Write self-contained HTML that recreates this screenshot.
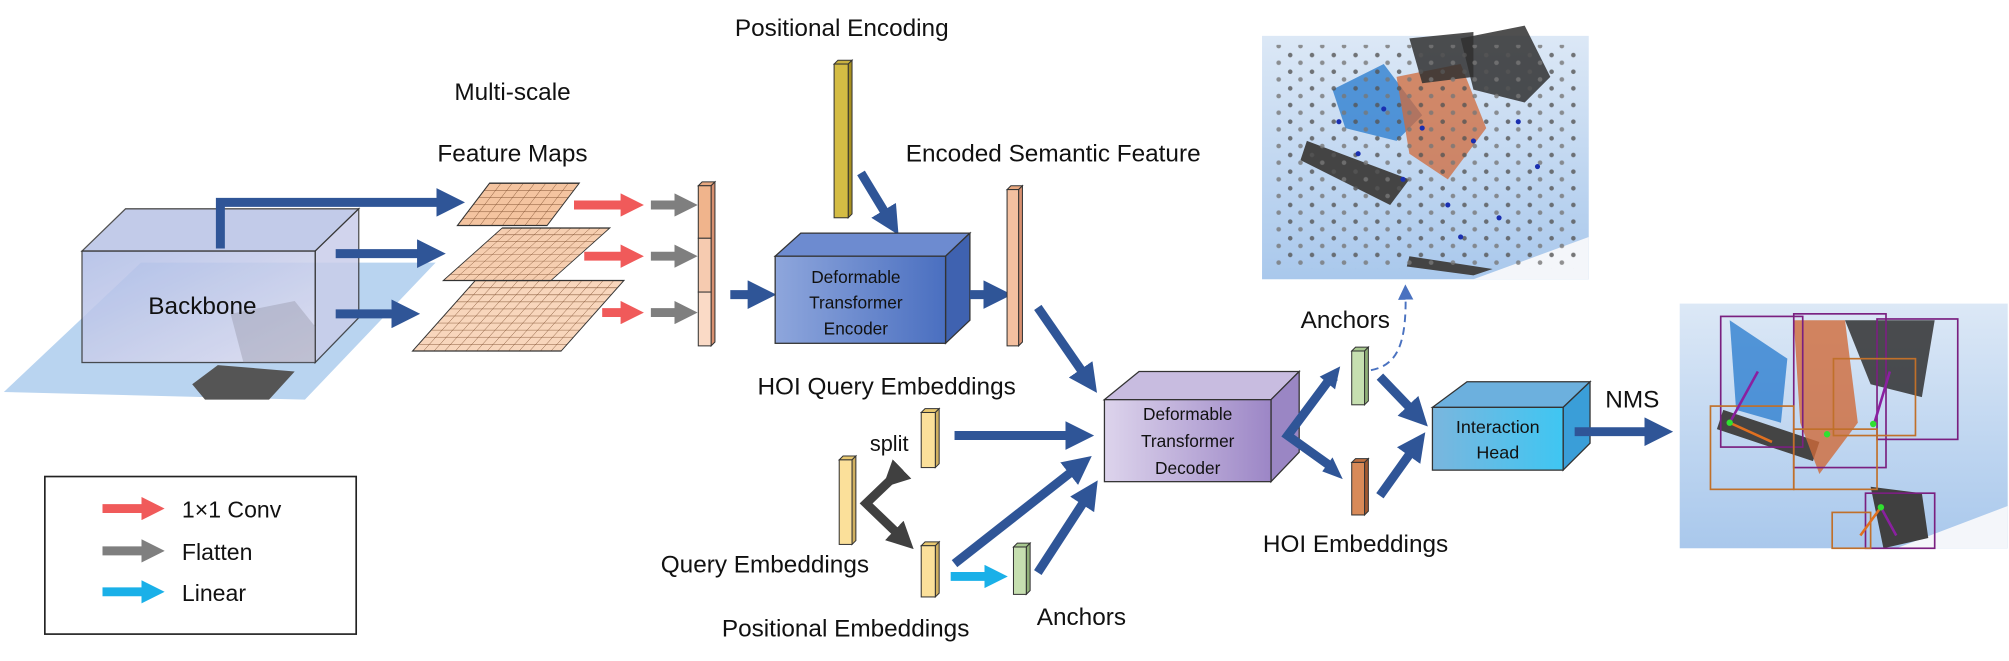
<!DOCTYPE html>
<html><head><meta charset="utf-8"><style>
html,body{margin:0;padding:0;background:#fff;}
svg{display:block;}
text{font-family:"Liberation Sans",sans-serif;fill:#111;}
</style></head><body>
<svg width="2009" height="661" viewBox="0 0 1568 516" preserveAspectRatio="none" xmlns="http://www.w3.org/2000/svg">
<defs>
<marker id="ab" viewBox="0 0 10 10" refX="2" refY="5" markerWidth="3.2" markerHeight="3.2" orient="auto"><path d="M0,0L10,5L0,10z" fill="#2f5597"/></marker>
<marker id="ar" viewBox="0 0 10 10" refX="2" refY="5" markerWidth="2.6" markerHeight="2.6" orient="auto"><path d="M0,0L10,5L0,10z" fill="#f05a5a"/></marker>
<marker id="ag" viewBox="0 0 10 10" refX="2" refY="5" markerWidth="2.6" markerHeight="2.6" orient="auto"><path d="M0,0L10,5L0,10z" fill="#7f7f7f"/></marker>
<marker id="ac" viewBox="0 0 10 10" refX="2" refY="5" markerWidth="2.6" markerHeight="2.6" orient="auto"><path d="M0,0L10,5L0,10z" fill="#1ab0e8"/></marker>
<marker id="ad" viewBox="0 0 10 10" refX="2" refY="5" markerWidth="3" markerHeight="3" orient="auto"><path d="M0,0L10,5L0,10z" fill="#404040"/></marker>
<marker id="ah" viewBox="0 0 10 10" refX="5" refY="5" markerWidth="8" markerHeight="8" orient="auto"><path d="M0,0L10,5L0,10z" fill="#4a72c0"/></marker>
<linearGradient id="gbb" x1="0" y1="0" x2="1" y2="1"><stop offset="0" stop-color="#aebce6"/><stop offset="1" stop-color="#e4e0f0"/></linearGradient>
<linearGradient id="genc" x1="0" y1="0" x2="1" y2="0"><stop offset="0" stop-color="#8ea6dc"/><stop offset="1" stop-color="#4a6fc0"/></linearGradient>
<linearGradient id="gdec" x1="0" y1="0" x2="1" y2="0"><stop offset="0" stop-color="#ddd4ec"/><stop offset="1" stop-color="#9c86c6"/></linearGradient>
<linearGradient id="gih" x1="0" y1="0" x2="1" y2="0"><stop offset="0" stop-color="#7ab6de"/><stop offset="1" stop-color="#3fc6f2"/></linearGradient>
<linearGradient id="gsky" x1="0" y1="0" x2="0" y2="1"><stop offset="0" stop-color="#dce8f6"/><stop offset="1" stop-color="#a9c8ec"/></linearGradient>
<pattern id="p1" width="8.75" height="5.5" patternUnits="userSpaceOnUse"><rect width="8.75" height="5.5" fill="#f4c4a0"/><path d="M0,0H8.75M0,0V5.5" stroke="#7a4a2a" stroke-width="0.7"/></pattern>
<pattern id="p2" width="7.64" height="5.12" patternUnits="userSpaceOnUse"><rect width="7.64" height="5.12" fill="#f6ceb0"/><path d="M0,0H7.64M0,0V5.12" stroke="#7a4a2a" stroke-width="0.7"/></pattern>
<pattern id="p3" width="8.3" height="5.5" patternUnits="userSpaceOnUse"><rect width="8.3" height="5.5" fill="#f8d6bc"/><path d="M0,0H8.3M0,0V5.5" stroke="#7a4a2a" stroke-width="0.7"/></pattern>
<pattern id="dots" width="17" height="13" patternUnits="userSpaceOnUse"><circle cx="4" cy="4" r="1.8" fill="#555"/><circle cx="12" cy="10" r="1.8" fill="#777"/></pattern>
</defs>

<!-- Backbone photo plane -->
<polygon points="3,306 110,205 340,205 238,312" fill="#b9d4f0"/>
<polygon points="150,300 170,285 230,290 210,312 160,312" fill="#555"/>
<!-- Backbone box -->
<polygon points="64,196 98,163 280,163 246,196" fill="#b8c2e6" opacity="0.85" stroke="#333" stroke-width="1"/>
<polygon points="246,196 280,163 280,248 246,283" fill="#c9cdea" opacity="0.85" stroke="#333" stroke-width="1"/>
<rect x="64" y="196" width="182" height="87" fill="url(#gbb)" opacity="0.85" stroke="#333" stroke-width="1"/>
<polygon points="180,245 230,235 246,255 246,283 190,283" fill="#8a8a9a" opacity="0.35"/>
<text x="158" y="245" font-size="19" text-anchor="middle">Backbone</text>

<!-- arrows from backbone -->
<path d="M172,194V158H345" fill="none" stroke="#2f5597" stroke-width="7" marker-end="url(#ab)"/>
<path d="M262,198H330" stroke="#2f5597" stroke-width="7" marker-end="url(#ab)"/>
<path d="M262,245H310" stroke="#2f5597" stroke-width="7" marker-end="url(#ab)"/>

<!-- feature maps -->
<g transform="matrix(1,0,-0.89,1,322,274)"><rect x="0" y="-55" width="116" height="55" fill="url(#p3)" stroke="#333" stroke-width="1"/></g>
<g transform="matrix(1,0,-1.12,1,346,219)"><rect x="0" y="-41" width="84" height="41" fill="url(#p2)" stroke="#333" stroke-width="1"/></g>
<g transform="matrix(1,0,-0.76,1,357,176)"><rect x="0" y="-33" width="70" height="33" fill="url(#p1)" stroke="#333" stroke-width="1"/></g>
<text x="400" y="78" font-size="19" text-anchor="middle">Multi-scale</text>
<text x="400" y="126" font-size="19" text-anchor="middle">Feature Maps</text>

<!-- red/gray arrows -->
<path d="M448,160H488" stroke="#f05a5a" stroke-width="7" marker-end="url(#ar)"/>
<path d="M456,200H488" stroke="#f05a5a" stroke-width="7" marker-end="url(#ar)"/>
<path d="M470,244H488" stroke="#f05a5a" stroke-width="7" marker-end="url(#ar)"/>
<path d="M508,160H530" stroke="#7f7f7f" stroke-width="7" marker-end="url(#ag)"/>
<path d="M508,200H530" stroke="#7f7f7f" stroke-width="7" marker-end="url(#ag)"/>
<path d="M508,244H530" stroke="#7f7f7f" stroke-width="7" marker-end="url(#ag)"/>

<!-- column vector -->
<polygon points="545,145 548,142 558,142 555,145" fill="#e8a880" stroke="#333" stroke-width="0.8"/>
<polygon points="555,145 558,142 558,267 555,270" fill="#d89070" stroke="#333" stroke-width="0.8"/>
<rect x="545" y="145" width="10" height="41" fill="#f0b48c" stroke="#333" stroke-width="0.8"/>
<rect x="545" y="186" width="10" height="42" fill="#f6cbb0" stroke="#333" stroke-width="0.8"/>
<rect x="545" y="228" width="10" height="42" fill="#fadac6" stroke="#333" stroke-width="0.8"/>
<path d="M570,230H588" stroke="#2f5597" stroke-width="7" marker-end="url(#ab)"/>

<!-- Positional encoding -->
<text x="657" y="28" font-size="19" text-anchor="middle">Positional Encoding</text>
<polygon points="651,50 654,47 665,47 662,50" fill="#c8b040" stroke="#333" stroke-width="0.8"/>
<polygon points="662,50 665,47 665,167 662,170" fill="#a89020" stroke="#333" stroke-width="0.8"/>
<rect x="651" y="50" width="11" height="120" fill="#d4bc44" stroke="#333" stroke-width="0.8"/>
<path d="M672,135L692,168" stroke="#2f5597" stroke-width="7" marker-end="url(#ab)"/>

<!-- Encoder -->
<polygon points="605,200 625,182 757,182 738,200" fill="#6d8bd0" stroke="#333" stroke-width="1"/>
<polygon points="738,200 757,182 757,250 738,268" fill="#3f62b0" stroke="#333" stroke-width="1"/>
<rect x="605" y="200" width="133" height="68" fill="url(#genc)" stroke="#333" stroke-width="1"/>
<text x="668" y="221" font-size="13.5" text-anchor="middle">Deformable</text>
<text x="668" y="241" font-size="13.5" text-anchor="middle">Transformer</text>
<text x="668" y="261" font-size="13.5" text-anchor="middle">Encoder</text>
<path d="M757,230H772" stroke="#2f5597" stroke-width="7" marker-end="url(#ab)"/>

<text x="822" y="126" font-size="19" text-anchor="middle">Encoded Semantic Feature</text>
<polygon points="786,148 789,145 798,145 795,148" fill="#e8a880" stroke="#333" stroke-width="0.8"/>
<polygon points="795,148 798,145 798,267 795,270" fill="#d89070" stroke="#333" stroke-width="0.8"/>
<rect x="786" y="148" width="9" height="122" fill="#f4c0a0" stroke="#333" stroke-width="0.8"/>
<path d="M810,240L846,292" stroke="#2f5597" stroke-width="7" marker-end="url(#ab)"/>

<!-- HOI Query -->
<text x="692" y="308" font-size="19" text-anchor="middle">HOI Query Embeddings</text>
<polygon points="719,322 722,319 733,319 730,322" fill="#e8c870" stroke="#333" stroke-width="0.8"/>
<polygon points="730,322 733,319 733,362 730,365" fill="#d0b060" stroke="#333" stroke-width="0.8"/>
<rect x="719" y="322" width="11" height="43" fill="#fbe09a" stroke="#333" stroke-width="0.8"/>
<path d="M745,340H836" stroke="#2f5597" stroke-width="7" marker-end="url(#ab)"/>

<polygon points="655,359 658,356 668,356 665,359" fill="#e8c870" stroke="#333" stroke-width="0.8"/>
<polygon points="665,359 668,356 668,422 665,425" fill="#d0b060" stroke="#333" stroke-width="0.8"/>
<rect x="655" y="359" width="10" height="66" fill="#fbe09a" stroke="#333" stroke-width="0.8"/>
<path d="M701,369L676,393L701,417" fill="none" stroke="#404040" stroke-width="7" marker-start="url(#ad)" marker-end="url(#ad)"/>
<text x="694" y="352" font-size="17" text-anchor="middle">split</text>
<text x="597" y="447" font-size="19" text-anchor="middle">Query Embeddings</text>

<polygon points="719,426 722,423 733,423 730,426" fill="#e8c870" stroke="#333" stroke-width="0.8"/>
<polygon points="730,426 733,423 733,463 730,466" fill="#d0b060" stroke="#333" stroke-width="0.8"/>
<rect x="719" y="426" width="11" height="40" fill="#fbe09a" stroke="#333" stroke-width="0.8"/>
<text x="660" y="497" font-size="19" text-anchor="middle">Positional Embeddings</text>
<path d="M742,450H772" stroke="#1ab0e8" stroke-width="7" marker-end="url(#ac)"/>
<polygon points="791,427 794,424 804,424 801,427" fill="#a8c890" stroke="#333" stroke-width="0.8"/>
<polygon points="801,427 804,424 804,461 801,464" fill="#90b078" stroke="#333" stroke-width="0.8"/>
<rect x="791" y="427" width="10" height="37" fill="#c6dfb0" stroke="#333" stroke-width="0.8"/>
<text x="844" y="488" font-size="19" text-anchor="middle">Anchors</text>
<path d="M745,440L838,367" stroke="#2f5597" stroke-width="7" marker-end="url(#ab)"/>
<path d="M810,447L847,390" stroke="#2f5597" stroke-width="7" marker-end="url(#ab)"/>

<!-- Decoder -->
<polygon points="862,312 889,290 1014,290 992,312" fill="#c8bce0" stroke="#333" stroke-width="1"/>
<polygon points="992,312 1014,290 1014,353 992,376" fill="#9a86c4" stroke="#333" stroke-width="1"/>
<rect x="862" y="312" width="130" height="64" fill="url(#gdec)" stroke="#333" stroke-width="1"/>
<text x="927" y="328" font-size="13.5" text-anchor="middle">Deformable</text>
<text x="927" y="349" font-size="13.5" text-anchor="middle">Transformer</text>
<text x="927" y="370" font-size="13.5" text-anchor="middle">Decoder</text>
<path d="M1040,293L1005,340L1040,365" fill="none" stroke="#2f5597" stroke-width="7"/>
<path d="M1030,304L1042,288L1044,297" fill="#2f5597"/>
<polygon points="1046,286 1030,294 1042,304" fill="#2f5597"/>
<polygon points="1048,374 1032,368 1040,357" fill="#2f5597"/>

<!-- anchors & HOI emb -->
<text x="1050" y="256" font-size="19" text-anchor="middle">Anchors</text>
<polygon points="1055,274 1058,271 1068,271 1065,274" fill="#a8c890" stroke="#333" stroke-width="0.8"/>
<polygon points="1065,274 1068,271 1068,313 1065,316" fill="#90b078" stroke="#333" stroke-width="0.8"/>
<rect x="1055" y="274" width="10" height="42" fill="#c6dfb0" stroke="#333" stroke-width="0.8"/>
<polygon points="1055,361 1058,358 1068,358 1065,361" fill="#c07040" stroke="#333" stroke-width="0.8"/>
<polygon points="1065,361 1068,358 1068,399 1065,402" fill="#a05830" stroke="#333" stroke-width="0.8"/>
<rect x="1055" y="361" width="10" height="41" fill="#d88a58" stroke="#333" stroke-width="0.8"/>
<text x="1058" y="431" font-size="19" text-anchor="middle">HOI Embeddings</text>
<path d="M1070,289C1090,285 1098,270 1097,228" fill="none" stroke="#4a72c0" stroke-width="1.5" stroke-dasharray="6,4" marker-end="url(#ah)"/>
<path d="M1077,294L1102,320" stroke="#2f5597" stroke-width="7" marker-end="url(#ab)"/>
<path d="M1077,387L1102,352" stroke="#2f5597" stroke-width="7" marker-end="url(#ab)"/>

<!-- Interaction head -->
<polygon points="1118,318 1145,298 1241,298 1220,318" fill="#6cb0de" stroke="#333" stroke-width="1"/>
<polygon points="1220,318 1241,298 1241,346 1220,367" fill="#3a9ed8" stroke="#333" stroke-width="1"/>
<rect x="1118" y="318" width="102" height="49" fill="url(#gih)" stroke="#333" stroke-width="1"/>
<text x="1169" y="338" font-size="14" text-anchor="middle">Interaction</text>
<text x="1169" y="358" font-size="14" text-anchor="middle">Head</text>
<text x="1274" y="318" font-size="19" text-anchor="middle">NMS</text>
<path d="M1229,337H1288" stroke="#2f5597" stroke-width="7" marker-end="url(#ab)"/>

<!-- top image -->
<rect x="985" y="28" width="255" height="190" fill="url(#gsky)"/>
<polygon points="1150,218 1240,185 1240,218" fill="#f4f6fa"/>
<polygon points="1020,110 1100,140 1085,160 1015,125" fill="#444"/>
<polygon points="1100,200 1165,210 1150,215 1098,208" fill="#444"/>
<polygon points="1040,70 1080,50 1110,90 1090,110 1050,100" fill="#2f7fd0" opacity="0.8"/>
<polygon points="1090,60 1140,50 1160,100 1130,140 1100,120" fill="#d06a3a" opacity="0.75"/>
<polygon points="1140,30 1190,20 1210,60 1190,80 1150,70" fill="#303030" opacity="0.85"/>
<polygon points="1100,30 1150,25 1150,60 1110,65" fill="#303030" opacity="0.85"/>
<rect x="995" y="35" width="235" height="175" fill="url(#dots)" opacity="0.8"/>
<g fill="#1a2fb0"><circle cx="1110" cy="100" r="2"/><circle cx="1060" cy="120" r="2"/><circle cx="1150" cy="110" r="2"/><circle cx="1185" cy="95" r="2"/><circle cx="1130" cy="160" r="2"/><circle cx="1200" cy="130" r="2"/><circle cx="1080" cy="85" r="2"/><circle cx="1170" cy="170" r="2"/><circle cx="1095" cy="140" r="2"/><circle cx="1045" cy="95" r="2"/><circle cx="1140" cy="185" r="2"/></g>

<!-- result image -->
<rect x="1311" y="237" width="256" height="191" fill="url(#gsky)"/>
<polygon points="1480,428 1567,395 1567,428" fill="#f4f6fa"/>
<polygon points="1350,250 1395,280 1390,330 1355,320" fill="#2f7fd0" opacity="0.8"/>
<polygon points="1345,320 1420,345 1415,360 1340,335" fill="#444"/>
<polygon points="1400,250 1440,250 1450,330 1420,370 1405,330" fill="#d06a3a" opacity="0.8"/>
<polygon points="1440,250 1510,250 1500,310 1460,300" fill="#303030" opacity="0.85"/>
<polygon points="1460,380 1500,385 1505,420 1470,428" fill="#404040"/>
<g fill="none" stroke-width="1.3">
<rect x="1343" y="247" width="64" height="102" stroke="#7a2080"/>
<rect x="1400" y="245" width="72" height="120" stroke="#7a2080"/>
<rect x="1465" y="249" width="63" height="94" stroke="#7a2080"/>
<rect x="1335" y="317" width="65" height="65" stroke="#c0702a"/>
<rect x="1400" y="335" width="65" height="47" stroke="#c0702a"/>
<rect x="1431" y="280" width="64" height="60" stroke="#c0702a"/>
<rect x="1456" y="385" width="54" height="43" stroke="#7a2080"/>
<rect x="1430" y="400" width="30" height="28" stroke="#c0702a"/>
<path d="M1350,330L1383,345" stroke="#e07020" stroke-width="2"/>
<path d="M1350,330L1372,290" stroke="#8a20a0" stroke-width="2"/>
<path d="M1463,330L1475,290" stroke="#8a20a0" stroke-width="2"/>
<path d="M1468,396L1452,418" stroke="#e07020" stroke-width="2"/>
<path d="M1468,396L1480,418" stroke="#8a20a0" stroke-width="2"/>
</g>
<g fill="#30e030"><circle cx="1350" cy="330" r="2.5"/><circle cx="1426" cy="339" r="2.5"/><circle cx="1462" cy="331" r="2.5"/><circle cx="1468" cy="396" r="2.5"/></g>

<!-- legend -->
<rect x="35" y="372" width="243" height="123" fill="#fff" stroke="#222" stroke-width="1.3"/>
<path d="M80,397H114" stroke="#f05a5a" stroke-width="7" marker-end="url(#ar)"/>
<path d="M80,430H114" stroke="#7f7f7f" stroke-width="7" marker-end="url(#ag)"/>
<path d="M80,462H114" stroke="#1ab0e8" stroke-width="7" marker-end="url(#ac)"/>
<text x="142" y="404" font-size="18">1×1 Conv</text>
<text x="142" y="437" font-size="18">Flatten</text>
<text x="142" y="469" font-size="18">Linear</text>
</svg>
</body></html>
